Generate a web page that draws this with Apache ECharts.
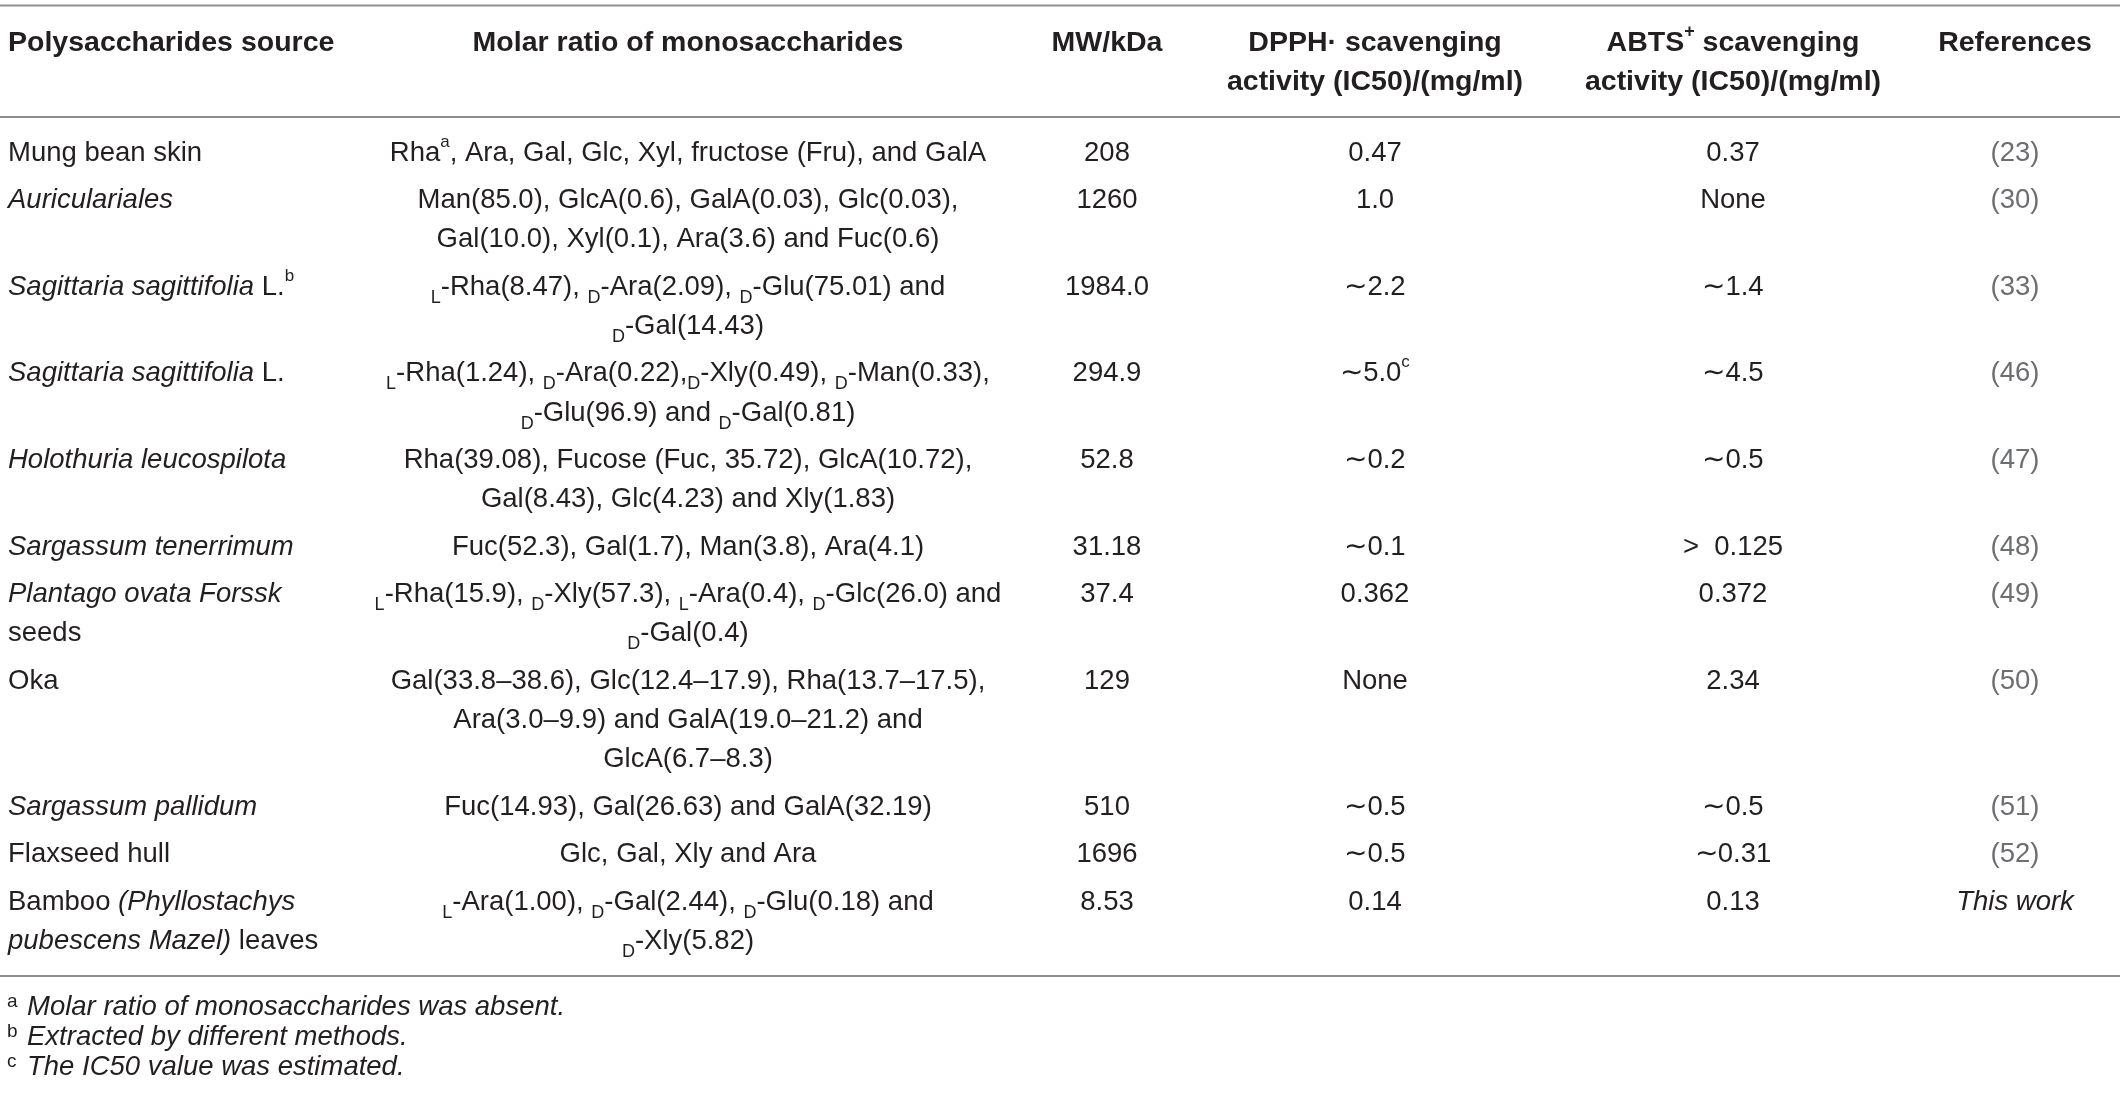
<!DOCTYPE html>
<html>
<head>
<meta charset="utf-8">
<script src="https://cdn.jsdelivr.net/npm/echarts@6/dist/echarts.min.js"></script>
<style>
  html, body { margin: 0; padding: 0; background: #fff; }
  #main { width: 2120px; height: 1096px; }
</style>
</head>
<body>
<div id="main"></div>
<script>
// table content, one array per column
var headers = [
  'Polysaccharides source',
  'Molar ratio of monosaccharides',
  'MW/kDa',
  'DPPH· scavenging\nactivity (IC50)/(mg/ml)',
  'ABTS{hsup|+} scavenging\nactivity (IC50)/(mg/ml)',
  'References'
];
var sources = [
  'Mung bean skin',
  '{i|Auriculariales}',
  '{i|Sagittaria sagittifolia} L.{sup|b}',
  '{i|Sagittaria sagittifolia} L.',
  '{i|Holothuria leucospilota}',
  '{i|Sargassum tenerrimum}',
  '{i|Plantago ovata Forssk}\nseeds',
  'Oka',
  '{i|Sargassum pallidum}',
  'Flaxseed hull',
  'Bamboo {i|(Phyllostachys}\n{i|pubescens Mazel)} leaves'
];
var ratios = [
  'Rha{sup|a}, Ara, Gal, Glc, Xyl, fructose (Fru), and GalA',
  'Man(85.0), GlcA(0.6), GalA(0.03), Glc(0.03),\nGal(10.0), Xyl(0.1), Ara(3.6) and Fuc(0.6)',
  '{sub|L}-Rha(8.47), {sub|D}-Ara(2.09), {sub|D}-Glu(75.01) and\n{sub|D}-Gal(14.43)',
  '{sub|L}-Rha(1.24), {sub|D}-Ara(0.22),{sub|D}-Xly(0.49), {sub|D}-Man(0.33),\n{sub|D}-Glu(96.9) and {sub|D}-Gal(0.81)',
  'Rha(39.08), Fucose (Fuc, 35.72), GlcA(10.72),\nGal(8.43), Glc(4.23) and Xly(1.83)',
  'Fuc(52.3), Gal(1.7), Man(3.8), Ara(4.1)',
  '{sub|L}-Rha(15.9), {sub|D}-Xly(57.3), {sub|L}-Ara(0.4), {sub|D}-Glc(26.0) and\n{sub|D}-Gal(0.4)',
  'Gal(33.8–38.6), Glc(12.4–17.9), Rha(13.7–17.5),\nAra(3.0–9.9) and GalA(19.0–21.2) and\nGlcA(6.7–8.3)',
  'Fuc(14.93), Gal(26.63) and GalA(32.19)',
  'Glc, Gal, Xly and Ara',
  '{sub|L}-Ara(1.00), {sub|D}-Gal(2.44), {sub|D}-Glu(0.18) and\n{sub|D}-Xly(5.82)'
];
var mw = ['208', '1260', '1984.0', '294.9', '52.8', '31.18', '37.4', '129', '510', '1696', '8.53'];
var dpph = ['0.47', '1.0', '∼2.2', '∼5.0{sup|c}', '∼0.2', '∼0.1', '0.362', 'None', '∼0.5', '∼0.5', '0.14'];
var abts = ['0.37', 'None', '∼1.4', '∼4.5', '∼0.5', '>  0.125', '0.372', '2.34', '∼0.5', '∼0.31', '0.13'];
var refs = ['(23)', '(30)', '(33)', '(46)', '(47)', '(48)', '(49)', '(50)', '(51)', '(52)', '{iw|This work}'];
var footnotes = [
  '{fsup|a}{i|Molar ratio of monosaccharides was absent.}',
  '{fsup|b}{i|Extracted by different methods.}',
  '{fsup|c}{i|The IC50 value was estimated.}'
];

// layout
var W = 2120;
var FONT = '"Liberation Sans", Arial, Helvetica, sans-serif';
var FS = 27.5;
var HFS = 28.5;
var LINE = 39.3;          // px between lines inside a row
var ROW_EXTRA = 0.206;    // extra gap between rows, in line units
var colX = [8, 688, 1107, 1375, 1733, 2015];
var colAlign = ['left', 'center', 'center', 'center', 'center', 'center'];
var INK = '#231f20';
var colColor = [INK, INK, INK, INK, INK, '#6d6e71'];
var BODY_TOP = 153;       // centre of first body line
var RULE = '#8f8f8f';

var columns = [sources, ratios, mw, dpph, abts, refs];

function nLines(s) { return s.split('\n').length; }

// row start positions in line units
var rowLines = sources.map(function (s, i) {
  return Math.max.apply(null, columns.map(function (c) { return nLines(c[i]); }));
});
var rowStart = [];
var acc = 0;
rowLines.forEach(function (n, i) { rowStart.push(acc); acc += n + ROW_EXTRA; });
var lastLine = rowStart[rowStart.length - 1] + rowLines[rowLines.length - 1] - 1;

var cells = [];
columns.forEach(function (col, c) {
  col.forEach(function (txt, r) {
    cells.push({ value: [colX[c], rowStart[r]], col: c, text: txt });
  });
});

var rich = {
  i: { fontStyle: 'italic', fontFamily: FONT, fontSize: FS, lineHeight: LINE },
  iw: { fontStyle: 'italic', fontFamily: FONT, fontSize: FS, lineHeight: LINE, fill: INK },
  sup: { fontFamily: FONT, fontSize: 17, lineHeight: 24, verticalAlign: 'top' },
  sub: { fontFamily: FONT, fontSize: 18, lineHeight: 22, verticalAlign: 'bottom' }
};

var chart = echarts.init(document.getElementById('main'), null, { renderer: 'canvas' });

var graphics = [];
// rules
[5.5, 117, 976].forEach(function (y) {
  graphics.push({ type: 'line', shape: { x1: 0, y1: y, x2: W, y2: y }, style: { stroke: RULE, lineWidth: 2 } });
});
// header
headers.forEach(function (h, c) {
  graphics.push({
    type: 'text', x: colX[c], y: 43 - 19.5,
    style: {
      text: h, fill: INK, align: colAlign[c], verticalAlign: 'top',
      fontFamily: FONT, fontWeight: 'bold', fontSize: HFS, lineHeight: 39,
      rich: { hsup: { fontFamily: FONT, fontWeight: 'bold', fontSize: 18, lineHeight: 24, verticalAlign: 'top' } }
    }
  });
});
// footnotes
footnotes.forEach(function (f, k) {
  graphics.push({
    type: 'text', x: 7, y: 1007 + k * 30 - 15,
    style: {
      text: f, fill: INK, align: 'left', verticalAlign: 'top',
      fontFamily: FONT, fontSize: FS, lineHeight: 30,
      rich: {
        i: { fontStyle: 'italic', fontFamily: FONT, fontSize: FS, lineHeight: 30 },
        fsup: { fontFamily: FONT, fontSize: 19, lineHeight: 24, width: 20, verticalAlign: 'top' }
      }
    }
  });
});

var option = {
  backgroundColor: '#fff',
  animation: false,
  graphic: graphics,
  grid: { left: 0, right: 0, top: BODY_TOP, height: lastLine * LINE },
  xAxis: { type: 'value', min: 0, max: W, show: false },
  yAxis: { type: 'value', min: 0, max: lastLine, inverse: true, show: false },
  series: [{
    type: 'custom',
    coordinateSystem: 'cartesian2d',
    data: cells,
    renderItem: function (params, api) {
      var item = cells[params.dataIndex];
      var p = api.coord([api.value(0), api.value(1)]);
      return {
        type: 'text',
        x: p[0], y: p[1] - LINE / 2,
        style: {
          text: item.text,
          fill: colColor[item.col],
          align: colAlign[item.col],
          verticalAlign: 'top',
          fontFamily: FONT, fontSize: FS, lineHeight: LINE,
          rich: rich
        }
      };
    }
  }]
};

chart.setOption(option);
window.addEventListener('resize', chart.resize);
</script>
</body>
</html>
